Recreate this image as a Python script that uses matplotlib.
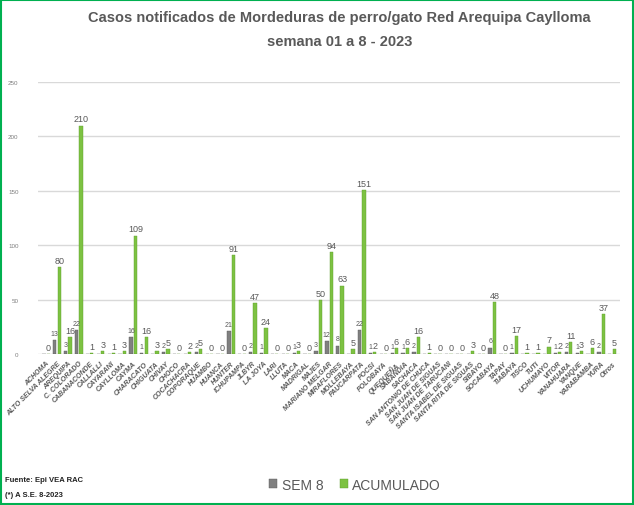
import matplotlib.pyplot as plt
from matplotlib.patches import Rectangle
import numpy as np

plt.rcParams['font.family'] = ['Liberation Sans', 'DejaVu Sans']

distritos = ['ACHOMA', 'ALTO SELVA ALEGRE', 'AREQUIPA', 'C. COLORADO', 'CABANACONDE',
             'CALLALLI', 'CAYARANI', 'CAYLLOMA', 'CAYMA', 'CHARACATO', 'CHIGUATA',
             'CHIVAY', 'CHOCO', 'COCACHACRA', 'COPORAQUE', 'HUAMBO', 'HUANCA', 'HUNTER',
             'ICHUPAMPA', 'JLBYR', 'LA JOYA', 'LARI', 'LLUTA', 'MACA', 'MADRIGAL', 'MAJES',
             'MARIANO MELGAR', 'MIRAFLORES', 'MOLLEBAYA', 'PAUCARPATA', 'POCSI', 'POLOBAYA',
             'QUEQUEÑA', 'SABANDIA', 'SACHACA', 'SAN ANTONIO DE CHUCA', 'SAN JUAN DE SIGUAS',
             'SAN JUAN DE TARUCANI', 'SANTA ISABEL DE SIGUAS', 'SANTA RITA DE SIGUAS',
             'SIBAYO', 'SOCABAYA', 'TAPAY', 'TIABAYA', 'TISCO', 'TUTI', 'UCHUMAYO', 'VITOR',
             'YANAHUARA', 'YANQUE', 'YARABAMBA', 'YURA', 'Otros']
sem8 = [0, 13, 3, 22, 0, 0, 0, 0, 16, 1, 0, 2, 0, 0, 2, 0, 0, 21, 0, 2, 1, 0, 0, 1, 0, 3,
        12, 8, 0, 22, 1, 0, 1, 1, 2, 0, 0, 0, 0, 0, 0, 6, 0, 1, 0, 0, 0, 1, 2, 1, 0, 2, 0]
acumulado = [0, 80, 16, 210, 1, 3, 1, 3, 109, 16, 3, 5, 0, 2, 5, 0, 0, 91, 0, 47, 24, 0, 0,
             3, 0, 50, 94, 63, 5, 151, 2, 0, 6, 6, 16, 1, 0, 0, 0, 3, 0, 48, 0, 17, 1, 1, 7,
             2, 11, 3, 6, 37, 5]

gris = '#595959'
verde = '#7dc242'
gris_barra = '#808080'

fig = plt.figure(figsize=(6.34, 5.06), dpi=100)
ax = fig.add_axes([0.06, 0.298, 0.918, 0.538])

x = np.arange(len(distritos))
w = 0.3
b1 = ax.bar(x - 0.2, sem8, w, color=gris_barra, edgecolor='#5a5a5a', linewidth=0.3, label='SEM 8', zorder=3)
b2 = ax.bar(x + 0.2, acumulado, w, color=verde, edgecolor='#5e9e2c', linewidth=0.3, label='ACUMULADO', zorder=3)

for i in range(len(x)):
    if sem8[i] > 0:
        ax.text(x[i] - 0.2, sem8[i] + 3, str(sem8[i]), ha='center', va='bottom', fontsize=5, color=gris)
    ax.text(x[i] + 0.2, acumulado[i] + 2, str(acumulado[i]), ha='center', va='bottom', fontsize=6.5, color=gris)

ax.set_ylim(0, 250)
ax.set_xlim(-0.74, len(distritos) - 0.26)
ax.set_yticks(range(0, 251, 50))
ax.tick_params(axis='y', labelsize=4.5, colors='#7f7f7f', length=0, pad=14)
ax.set_xticks(x)
ax.set_xticklabels(distritos, rotation=45, ha='right', rotation_mode='anchor',
                   fontsize=5, fontweight='bold', fontstyle='italic', color=gris)
ax.tick_params(axis='x', length=0, pad=4)
ax.grid(axis='y', color='#d9d9d9', linewidth=1, zorder=0)
for s in ax.spines.values():
    s.set_visible(False)

fig.suptitle('Casos notificados de Mordeduras de perro/gato Red Arequipa Caylloma\nsemana 01 a 8 - 2023',
             x=0.535, y=0.978, fontsize=10.5, fontweight='bold', color=gris, linespacing=1.9)

fig.legend(handles=[b1, b2], loc='center', bbox_to_anchor=(0.56, 0.04), ncol=2, frameon=False,
           fontsize=10, labelcolor=gris, handlelength=0.6, handleheight=0.6, handletextpad=0.3,
           columnspacing=1.2)

fig.text(0.008, 0.048, 'Fuente: Epi VEA RAC', fontsize=5.5, fontweight='bold', color='#222222')
fig.text(0.008, 0.018, '(*) A S.E. 8-2023', fontsize=5.5, fontweight='bold', color='#222222')

fig.patches.append(Rectangle((0.002, 0.002), 0.996, 0.996, transform=fig.transFigure,
                             fill=False, edgecolor='#00b050', linewidth=1.5))

fig.savefig('out.png', dpi=100)
